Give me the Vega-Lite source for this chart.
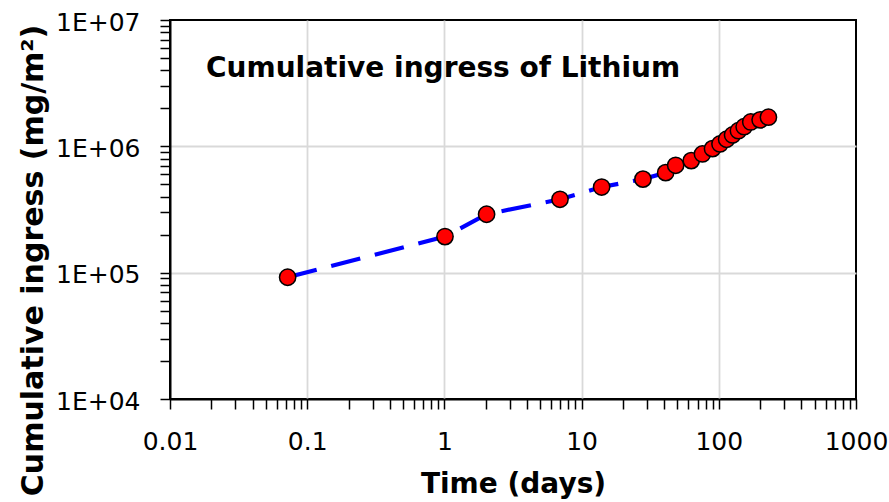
{
  "$schema": "https://vega.github.io/schema/vega-lite/v6.json",
  "width": 686,
  "height": 379,
  "autosize": {"type": "none"},
  "padding": {"left": 170, "top": 20, "right": 33, "bottom": 103},
  "background": "white",
  "config": {
    "font": "DejaVu Sans",
    "view": {"stroke": "black", "strokeWidth": 2}
  },
  "datasets": {
    "ingress": [
      {"time": 0.072, "ingress": 92000},
      {"time": 1.01, "ingress": 193000},
      {"time": 2.03, "ingress": 290000},
      {"time": 6.96, "ingress": 381000},
      {"time": 14, "ingress": 476000},
      {"time": 28, "ingress": 550000},
      {"time": 41, "ingress": 619000},
      {"time": 48.5, "ingress": 708000},
      {"time": 63, "ingress": 771000},
      {"time": 76, "ingress": 871000},
      {"time": 90, "ingress": 959000},
      {"time": 102, "ingress": 1045000},
      {"time": 114, "ingress": 1138000},
      {"time": 126, "ingress": 1230000},
      {"time": 139, "ingress": 1330000},
      {"time": 153, "ingress": 1430000},
      {"time": 171, "ingress": 1560000},
      {"time": 200, "ingress": 1620000},
      {"time": 230, "ingress": 1700000}
    ],
    "label": [
      {"text": "Cumulative ingress of Lithium"}
    ]
  },
  "layer": [
    {
      "data": {"name": "ingress"},
      "mark": {"type": "line", "color": "#0000ff", "strokeWidth": 4.2, "strokeDash": [30, 15], "strokeCap": "butt"},
      "encoding": {
        "x": {
          "field": "time",
          "type": "quantitative",
          "scale": {"type": "log", "domain": [0.01, 1000], "nice": false},
          "axis": {
            "values": [0.01,0.02,0.03,0.04,0.05,0.06,0.07,0.08,0.09,0.1,0.2,0.3,0.4,0.5,0.6,0.7,0.8,0.9,1,2,3,4,5,6,7,8,9,10,20,30,40,50,60,70,80,90,100,200,300,400,500,600,700,800,900,1000],
            "title": "Time (days)",
            "titleFontSize": 28,
            "titleFontWeight": "bold",
            "titleColor": "black",
            "titleX": 343,
            "titleY": 93,
            "titleBaseline": "alphabetic",
            "titleAlign": "center",
            "labelExpr": "indexof([0.01,0.1,1,10,100,1000], datum.value) >= 0 ? toString(datum.value) : ''",
            "labelFontSize": 25,
            "labelColor": "black",
            "labelPadding": 20,
            "labelFlush": false,
            "labelOverlap": false,
            "labelBound": false,
            "tickSize": 10,
            "tickColor": "black",
            "tickWidth": 1.5,
            "domainColor": "black",
            "domainWidth": 2,
            "grid": true,
            "gridColor": "#d9d9d9",
            "gridWidth": 1.8,
            "gridOpacity": {"condition": {"test": "indexof([0.1,1,10,100], datum.value) >= 0", "value": 1}, "value": 0},
            "encode": {
              "ticks": {
                "update": {
                  "y": {"signal": "indexof([0.01,0.1,1,10,100,1000], datum.value) >= 0 ? 10 : 0"},
                  "y2": {"signal": "indexof([0.01,0.1,1,10,100,1000], datum.value) >= 0 ? -8 : -6"}
                }
              }
            }
          }
        },
        "y": {
          "field": "ingress",
          "type": "quantitative",
          "scale": {"type": "log", "domain": [10000, 10000000], "nice": false},
          "axis": {
            "values": [10000,20000,30000,40000,50000,60000,70000,80000,90000,100000,200000,300000,400000,500000,600000,700000,800000,900000,1000000,2000000,3000000,4000000,5000000,6000000,7000000,8000000,9000000,10000000],
            "title": "Cumulative ingress (mg/m²)",
            "titleFontSize": 30,
            "titleFontWeight": "bold",
            "titleColor": "black",
            "titleAngle": -90,
            "titleX": -128,
            "titleY": 240,
            "titleBaseline": "alphabetic",
            "titleAlign": "center",
            "labelExpr": "indexof([10000,100000,1000000,10000000], datum.value) >= 0 ? '1E+0' + round(log(datum.value)/LN10) : ''",
            "labelFontSize": 25,
            "labelColor": "black",
            "labelPadding": 20,
            "labelOffset": 2,
            "labelFlush": false,
            "labelOverlap": false,
            "labelBound": false,
            "tickSize": 10,
            "tickColor": "black",
            "tickWidth": 1.5,
            "domainColor": "black",
            "domainWidth": 2,
            "grid": true,
            "gridColor": "#d9d9d9",
            "gridWidth": 1.8,
            "gridOpacity": {"condition": {"test": "indexof([100000,1000000], datum.value) >= 0", "value": 1}, "value": 0},
            "encode": {
              "ticks": {
                "update": {
                  "x": {"signal": "indexof([10000,100000,1000000,10000000], datum.value) >= 0 ? -10 : 0"},
                  "x2": {"signal": "indexof([10000,100000,1000000,10000000], datum.value) >= 0 ? 8 : 6"}
                }
              }
            }
          }
        }
      }
    },
    {
      "data": {"name": "ingress"},
      "mark": {"type": "point", "shape": "circle", "filled": true, "fill": "#ff0000", "stroke": "black", "strokeWidth": 1.5, "size": 265, "opacity": 1},
      "encoding": {
        "x": {"field": "time", "type": "quantitative"},
        "y": {"field": "ingress", "type": "quantitative"}
      }
    },
    {
      "data": {"name": "label"},
      "mark": {"type": "text", "align": "left", "baseline": "alphabetic", "fontSize": 28, "fontWeight": "bold", "color": "black"},
      "encoding": {
        "text": {"field": "text"},
        "x": {"datum": 0.0183, "type": "quantitative"},
        "y": {"datum": 3540000, "type": "quantitative"}
      }
    }
  ]
}
